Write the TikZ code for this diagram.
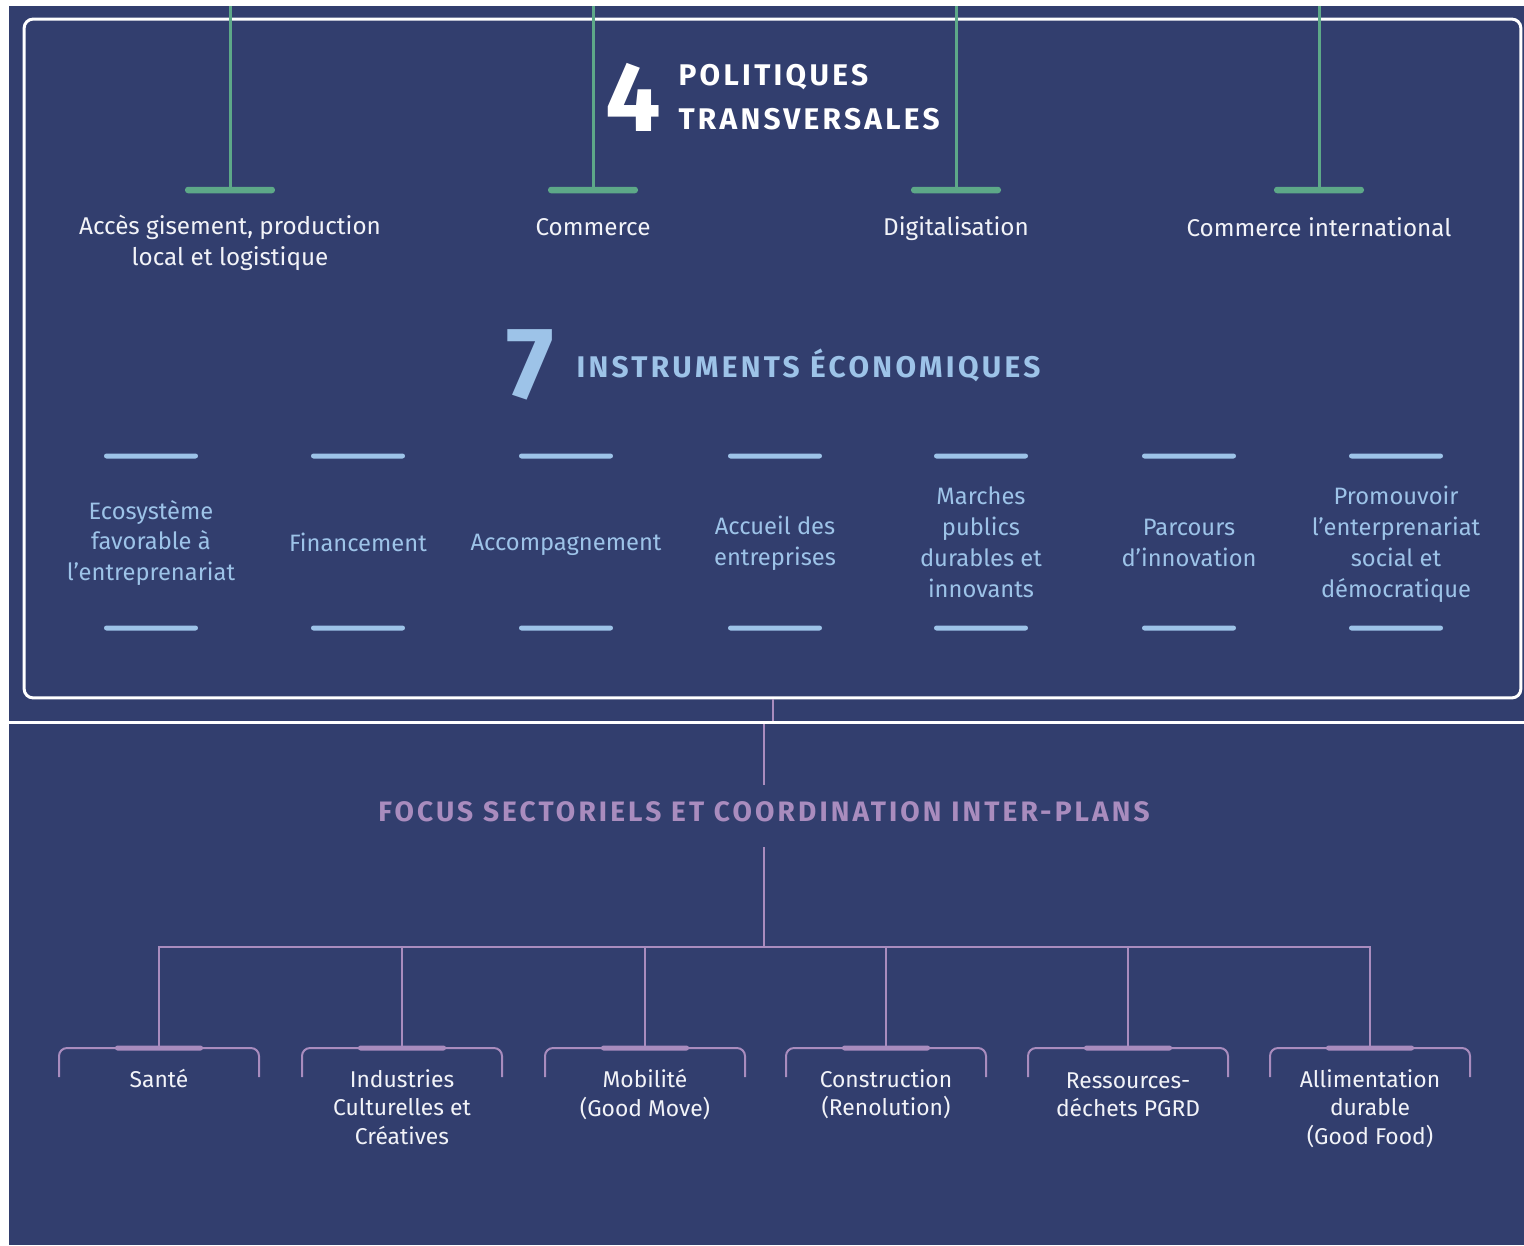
\documentclass[tikz,border=0pt]{standalone}
\usepackage{fontspec}
\setmainfont{Fira Sans}
\newfontfamily\capsfont{Fira Sans}[LetterSpace=11]
\usetikzlibrary{positioning}

\definecolor{panelblue}{HTML}{323E6E}
\definecolor{policygreen}{HTML}{5DA888}
\definecolor{instrblue}{HTML}{9DC3E8}
\definecolor{focuspurple}{HTML}{A98CBE}
\definecolor{labelwhite}{HTML}{F2F3F8}

\begin{document}
\begin{tikzpicture}[x=0.02cm, y=-0.02cm,
    policy/.style={text=labelwhite, align=center, inner sep=0pt, font=\fontsize{13.8}{17.6}\selectfont},
    instrument/.style={text=instrblue, align=center, inner sep=0pt, font=\fontsize{13.5}{17.6}\selectfont},
    sector/.style={text=labelwhite, align=center, inner sep=0pt, anchor=north, font=\fontsize{13}{16.2}\selectfont},
    greenbar/.style={rectangle, fill=policygreen, rounded corners=0.06cm, minimum width=1.8cm, minimum height=0.13cm, inner sep=0pt},
    bluebar/.style={rectangle, fill=instrblue, rounded corners=0.05cm, minimum width=1.88cm, minimum height=0.1cm, inner sep=0pt},
    purplebar/.style={rectangle, fill=focuspurple, rounded corners=0.05cm, minimum width=1.76cm, minimum height=0.1cm, inner sep=0pt},
    greenstem/.style={draw=policygreen, line width=0.06cm},
    focusline/.style={draw=focuspurple, line width=0.05cm},
    bracket/.style={draw=focuspurple, line width=0.04cm, rounded corners=0.16cm}]

    % page and panels
    \useasboundingbox (0,0) rectangle (1524,1245);
    \fill[white] (0,0) rectangle (1524,1245);
    \fill[panelblue] (9,6) rectangle (1524,721);
    \fill[panelblue] (9,724) rectangle (1524,1245);

    \node (InstrumentBox) [draw=white, line width=0.06cm, rounded corners=0.18cm, minimum width=29.94cm, minimum height=13.58cm, inner sep=0pt] at (772.5,358.5) {};

    % 4 politiques transversales
    \node (FourBig) [text=white, inner sep=0pt, font=\bfseries\fontsize{56}{56}\selectfont] at (633,97) {4};
    \node (PolicyTitle) [right=0.34cm of FourBig, align=left, text=white, inner sep=0pt, font=\capsfont\bfseries\fontsize{17}{25}\selectfont] {POLITIQUES\\TRANSVERSALES};

    \coordinate (AccesStem) at (230,6);
    \coordinate (CommerceStem) at (593,6);
    \coordinate (DigitalStem) at (956,6);
    \coordinate (CommerceIntStem) at (1319,6);

    \node (AccesBar) [greenbar] at (230,190) {};
    \node (CommerceBar) [greenbar] at (593,190) {};
    \node (DigitalBar) [greenbar] at (956,190) {};
    \node (CommerceIntBar) [greenbar] at (1319,190) {};

    \draw[greenstem] (AccesStem) -- (AccesBar.center);
    \draw[greenstem] (CommerceStem) -- (CommerceBar.center);
    \draw[greenstem] (DigitalStem) -- (DigitalBar.center);
    \draw[greenstem] (CommerceIntStem) -- (CommerceIntBar.center);

    \node (Acces) [policy] at (230,243) {Accès gisement, production\\local et logistique};
    \node (Commerce) [policy] at (593,227) {Commerce};
    \node (Digital) [policy] at (956,229) {Digitalisation};
    \node (CommerceInt) [policy] at (1319,227) {Commerce international};

    % 7 instruments economiques
    \node (SevenBig) [text=instrblue, inner sep=0pt, font=\bfseries\fontsize{58}{58}\selectfont] at (530,365) {7};
    \node (InstrTitle) [right=0.44cm of SevenBig, text=instrblue, inner sep=0pt, font=\capsfont\bfseries\fontsize{17}{20}\selectfont] {INSTRUMENTS ÉCONOMIQUES};

    \node (EcosystemeTop) [bluebar] at (151,456) {};
    \node (FinancementTop) [bluebar] at (358,456) {};
    \node (AccompagnementTop) [bluebar] at (566,456) {};
    \node (AccueilTop) [bluebar] at (775,456) {};
    \node (MarchesTop) [bluebar] at (981,456) {};
    \node (ParcoursTop) [bluebar] at (1189,456) {};
    \node (PromouvoirTop) [bluebar] at (1396,456) {};

    \node (Ecosysteme) [instrument] at (151,543) {Ecosystème\\favorable à\\l’entreprenariat};
    \node (Financement) [instrument] at (358,542) {Financement};
    \node (Accompagnement) [instrument] at (566,545) {Accompagnement};
    \node (Accueil) [instrument] at (775,543) {Accueil des\\entreprises};
    \node (Marches) [instrument] at (981,542) {Marches\\publics\\durables et\\innovants};
    \node (Parcours) [instrument] at (1189,543) {Parcours\\d’innovation};
    \node (Promouvoir) [instrument] at (1396,544) {Promouvoir\\l’enterprenariat\\social et\\démocratique};

    \node (EcosystemeBottom) [bluebar] at (151,628) {};
    \node (FinancementBottom) [bluebar] at (358,628) {};
    \node (AccompagnementBottom) [bluebar] at (566,628) {};
    \node (AccueilBottom) [bluebar] at (775,628) {};
    \node (MarchesBottom) [bluebar] at (981,628) {};
    \node (ParcoursBottom) [bluebar] at (1189,628) {};
    \node (PromouvoirBottom) [bluebar] at (1396,628) {};

    % focus sectoriels
    \coordinate (BoxLink) at (772.5,721);
    \draw[focuspurple, line width=0.04cm] (InstrumentBox.south) -- (BoxLink);

    \coordinate (FocusTop) at (764,724);
    \coordinate (FocusUpper) at (764,785);
    \coordinate (FocusLower) at (764,847);
    \coordinate (FocusHub) at (764,947);

    \node (FocusTitle) [text=focuspurple, inner sep=0pt, font=\capsfont\bfseries\fontsize{16}{20}\selectfont] at (764,812) {FOCUS SECTORIELS ET COORDINATION INTER-PLANS};

    \draw[focusline] (FocusTop) -- (FocusUpper);
    \draw[focusline] (FocusLower) -- (FocusHub);

    \node (SanteBar) [purplebar] at (159,1048) {};
    \node (IndustriesBar) [purplebar] at (402,1048) {};
    \node (MobiliteBar) [purplebar] at (645,1048) {};
    \node (ConstructionBar) [purplebar] at (886,1048) {};
    \node (RessourcesBar) [purplebar] at (1128,1048) {};
    \node (AlimentationBar) [purplebar] at (1370,1048) {};

    \draw[focusline] (FocusHub) -| (SanteBar.center);
    \draw[focusline] (FocusHub) -| (IndustriesBar.center);
    \draw[focusline] (FocusHub) -| (MobiliteBar.center);
    \draw[focusline] (FocusHub) -| (ConstructionBar.center);
    \draw[focusline] (FocusHub) -| (RessourcesBar.center);
    \draw[focusline] (FocusHub) -| (AlimentationBar.center);

    \draw[bracket] (SanteBar.center) ++(-100,29) -- ++(0,-29) -- ++(200,0) -- ++(0,29);
    \draw[bracket] (IndustriesBar.center) ++(-100,29) -- ++(0,-29) -- ++(200,0) -- ++(0,29);
    \draw[bracket] (MobiliteBar.center) ++(-100,29) -- ++(0,-29) -- ++(200,0) -- ++(0,29);
    \draw[bracket] (ConstructionBar.center) ++(-100,29) -- ++(0,-29) -- ++(200,0) -- ++(0,29);
    \draw[bracket] (RessourcesBar.center) ++(-100,29) -- ++(0,-29) -- ++(200,0) -- ++(0,29);
    \draw[bracket] (AlimentationBar.center) ++(-100,29) -- ++(0,-29) -- ++(200,0) -- ++(0,29);

    \node (Sante) [sector] at (159,1069) {Santé};
    \node (Industries) [sector] at (402,1069) {Industries\\Culturelles et\\Créatives};
    \node (Mobilite) [sector] at (645,1069) {Mobilité\\(Good Move)};
    \node (Construction) [sector] at (886,1069) {Construction\\(Renolution)};
    \node (Ressources) [sector] at (1128,1072) {Ressources-\\déchets PGRD};
    \node (Alimentation) [sector] at (1370,1069) {Allimentation\\durable\\(Good Food)};
\end{tikzpicture}
\end{document}
